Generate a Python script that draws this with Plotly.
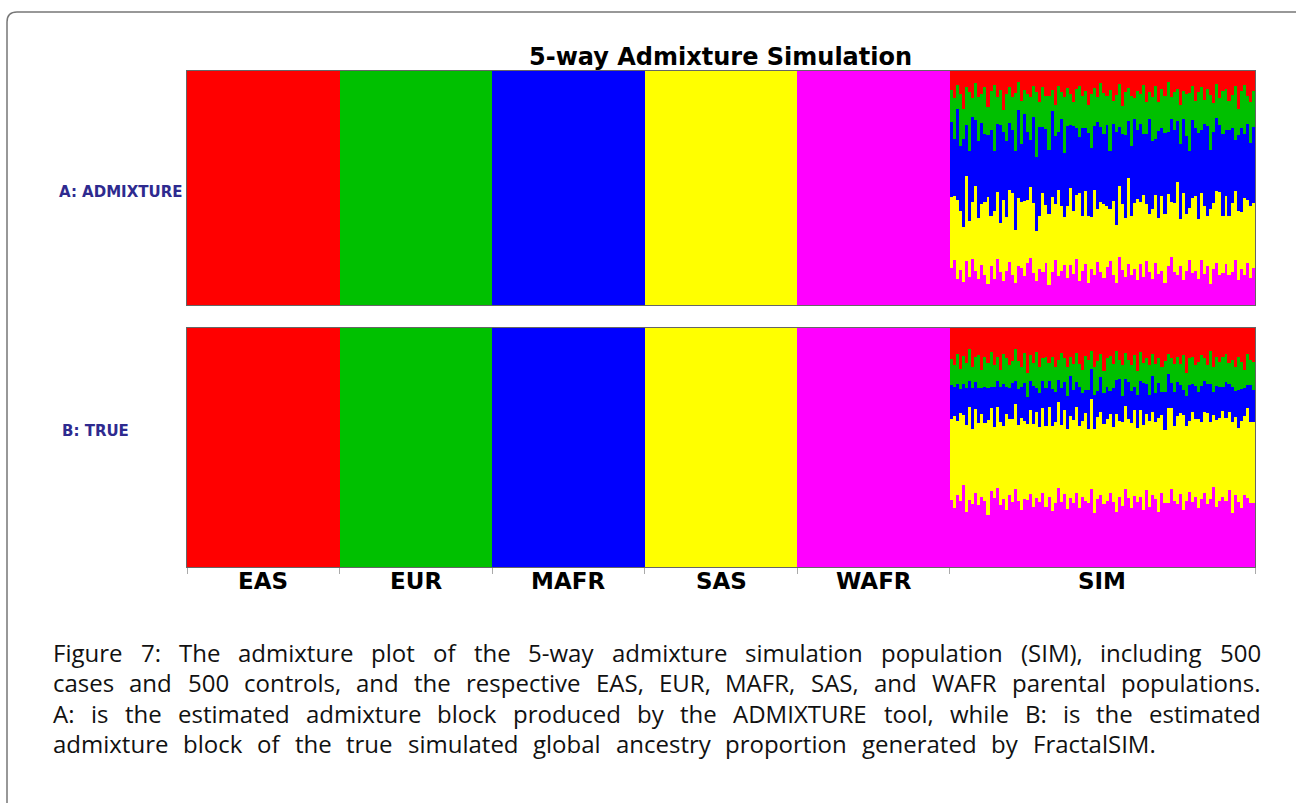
import plotly.graph_objects as go

# ---------------- data ----------------
groups = ["EAS", "EUR", "MAFR", "SAS", "WAFR", "SIM"]
group_sizes = [500, 500, 500, 500, 500, 1000]
components = ["EAS", "EUR", "MAFR", "SAS", "WAFR"]
colors = {"EAS": "#FF0000", "EUR": "#00C000", "MAFR": "#0000FF",
          "SAS": "#FFFF00", "WAFR": "#FF00FF"}

# SIM individuals (binned), panel A: ADMIXTURE estimate (percent)
EAS_A = [8,12,6,10,15,7,9,13,5,11, 10,7,14,9,6,12,8,16,10,7, 11,9,5,13,8,10,12,6,9,14,
         7,11,10,8,15,6,9,12,7,10, 13,8,6,11,9,14,10,7,12,5, 9,11,8,13,10,6,15,9,7,11,
         12,8,10,6,14,9,11,7,13,8, 10,5,12,9,7,16,8,11,10,6, 13,9,7,12,8,10,14,6,11,9,
         8,12,10,7,15,9,6,11,13,8]
EUR_A = [14,18,10,22,12,16,25,9,15,19, 13,20,11,17,28,12,15,9,21,16, 14,24,12,18,10,16,20,13,27,11,
         17,15,22,9,14,19,12,25,16,13, 10,18,21,14,16,11,24,15,12,19, 17,13,26,10,15,20,12,18,14,22,
         9,16,13,21,15,11,19,24,12,17, 15,22,10,16,13,18,11,20,27,14, 12,17,19,10,16,23,13,15,11,20,
         18,12,14,25,10,16,21,13,17,15]
MAFR_A = [32,25,38,28,35,22,30,40,27,33, 36,29,24,38,26,31,42,28,34,30, 27,33,39,25,36,29,22,35,31,40,
          28,34,26,37,30,24,38,29,33,27, 35,30,23,39,28,34,31,26,41,32, 29,36,25,33,38,27,30,35,24,31,
          37,28,34,26,32,40,29,25,36,30, 33,27,38,31,24,35,29,37,26,32, 30,36,28,34,39,25,31,33,27,38,
          29,35,32,24,30,37,28,34,26,31]
SAS_A = [30,28,33,25,22,36,24,27,35,26, 27,31,34,22,29,30,21,33,24,32, 35,22,30,28,31,27,33,29,21,24,
         34,26,29,32,25,35,28,22,30,33, 26,29,36,24,32,27,23,34,25,30, 31,27,22,32,24,33,28,25,36,26,
         29,33,27,35,26,24,30,31,23,33, 28,32,25,29,37,22,34,27,24,31, 33,25,30,28,22,31,29,32,34,26,
         30,24,29,32,27,25,33,28,30,27]
WAFR_A = [16,20,11,15,9,19,12,22,14,11, 18,13,8,17,11,21,14,10,15,19, 13,9,17,16,12,18,22,13,10,16,
          14,19,8,14,20,12,15,18,11,17, 13,21,10,15,18,9,16,12,20,14, 11,17,19,13,9,22,15,12,17,13,
          16,10,18,12,20,14,11,19,13,15, 9,17,22,14,12,18,10,16,21,13, 15,11,20,13,17,9,16,19,12,15,
          18,12,14,21,10,16,13,19,11,15]

# SIM individuals (binned), panel B: true simulated proportions (percent)
EAS_B = [13,15,11,17,12,14,9,16,13,11, 18,12,14,10,15,13,17,11,12,16, 14,9,13,15,11,19,12,14,10,16,
         13,12,15,11,17,14,10,13,16,12, 15,11,14,18,12,13,10,16,14,11, 17,13,12,15,9,14,16,11,13,15,
         12,18,10,14,13,16,11,15,12,17, 14,10,13,16,12,15,11,19,13,12, 16,14,11,13,15,10,17,12,14,13,
         11,15,13,16,12,14,18,11,13,15]
EUR_B = [11,9,13,8,12,10,14,9,11,13, 8,12,10,15,9,11,7,13,12,10, 9,14,11,8,13,10,12,9,15,11,
         10,13,8,12,11,9,14,10,12,8, 11,13,9,10,14,12,8,11,13,10, 9,12,15,10,11,8,13,12,9,11,
         14,10,12,8,11,13,9,12,10,11, 13,8,11,12,10,9,14,10,12,11, 9,12,13,10,8,14,11,12,10,13,
         12,9,11,10,14,11,8,13,10,12]
MAFR_B = [14,12,16,10,13,15,11,17,12,14, 11,15,13,9,16,12,14,18,11,13, 15,10,14,12,17,11,13,15,10,14,
          12,16,11,14,13,10,15,12,14,17, 13,11,15,12,10,16,13,14,11,15, 12,14,10,16,13,18,11,12,15,13,
          10,14,12,17,13,11,15,12,14,10, 16,13,11,15,14,12,10,13,16,12, 14,11,15,13,12,16,10,14,13,11,
          15,12,14,11,16,13,12,10,15,14]
SAS_B = [34,38,32,36,30,35,40,31,37,33, 36,32,38,35,29,37,34,31,39,33, 35,37,30,36,34,32,38,33,36,31,
         37,34,39,32,35,38,31,36,33,34, 35,38,32,33,37,30,39,34,35,36, 32,35,34,31,38,33,36,37,32,35,
         38,31,36,34,33,37,35,32,38,34, 31,37,35,33,36,34,38,32,31,37, 34,36,32,35,37,33,31,36,34,38,
         35,33,37,32,31,36,34,38,33,35]
WAFR_B = [28,24,31,27,35,22,29,26,33,25, 30,27,21,32,28,36,25,29,23,31, 27,34,26,22,30,28,33,24,29,27,
          32,25,30,21,28,35,26,31,24,29, 27,33,23,30,28,26,34,22,29,31, 25,28,32,27,21,30,26,35,28,24,
          31,27,29,23,33,26,30,28,22,32, 27,25,34,29,26,31,23,28,33,27, 30,24,28,32,26,29,35,25,27,31,
          28,33,22,30,27,24,31,29,26,28]

panel_labels = ["A: ADMIXTURE", "B: TRUE"]
title_text = "5-way Admixture Simulation"
caption_lines = [
    "Figure 7:  The admixture plot of the 5-way admixture simulation population (SIM), including 500",
    "cases and 500 controls, and the respective EAS, EUR, MAFR, SAS, and WAFR parental populations.",
    "A: is the estimated admixture block produced by the ADMIXTURE tool, while B: is the estimated",
    "admixture block of the true simulated global ancestry proportion generated by FractalSIM.",
]

# ---------------- layout helpers ----------------
W, H = 1296, 803
def fx(p):
    return p / W
def fy(p):
    return 1 - p / H

fig = go.Figure()

def add_panel(sim, xa, ya):
    n_sim = len(sim["EAS"])
    sim_w = group_sizes[-1] / n_sim
    xs, ws = [], []
    start = 0
    for s in group_sizes[:5]:
        xs.append(start + s / 2)
        ws.append(s)
        start += s
    for i in range(n_sim):
        xs.append(start + sim_w * (i + 0.5))
        ws.append(sim_w * 1.03)
    sums = [sum(sim[c][i] for c in components) for i in range(n_sim)]
    for c in reversed(components):  # WAFR at bottom, EAS on top
        ys = [1.0 if g == c else 0.0 for g in groups[:5]]
        ys += [sim[c][i] / sums[i] for i in range(n_sim)]
        fig.add_trace(go.Bar(x=xs, y=ys, width=ws, xaxis=xa, yaxis=ya,
                             marker=dict(color=colors[c], line=dict(width=0)),
                             showlegend=False, hoverinfo="skip"))

add_panel({"EAS": EAS_A, "EUR": EUR_A, "MAFR": MAFR_A, "SAS": SAS_A, "WAFR": WAFR_A}, "x", "y")
add_panel({"EAS": EAS_B, "EUR": EUR_B, "MAFR": MAFR_B, "SAS": SAS_B, "WAFR": WAFR_B}, "x2", "y2")

total = sum(group_sizes)
bounds = [0]
for s in group_sizes:
    bounds.append(bounds[-1] + s)
centers = [(bounds[i] + bounds[i + 1]) / 2 for i in range(len(groups))]

xdom = [fx(187), fx(1255)]
axis_common = dict(range=[0, total], showline=True, mirror=True, linecolor="#666666",
                   linewidth=1, showgrid=False, zeroline=False, fixedrange=True)
fig.update_layout(
    width=W, height=H,
    margin=dict(l=0, r=0, t=0, b=0),
    paper_bgcolor="white", plot_bgcolor="white",
    barmode="stack", bargap=0,
    xaxis=dict(domain=xdom, anchor="y", showticklabels=False, ticks="", **axis_common),
    yaxis=dict(domain=[fy(305), fy(71)], anchor="x", range=[0, 1], showline=True, mirror=True,
               linecolor="#666666", linewidth=1, showgrid=False, zeroline=False,
               showticklabels=False, ticks=""),
    xaxis2=dict(domain=xdom, anchor="y2", tickmode="array", tickvals=bounds,
                ticktext=[""] * len(bounds), ticks="outside", ticklen=6, tickcolor="#AAAAAA",
                **axis_common),
    yaxis2=dict(domain=[fy(567), fy(328)], anchor="x2", range=[0, 1], showline=True, mirror=True,
                linecolor="#666666", linewidth=1, showgrid=False, zeroline=False,
                showticklabels=False, ticks=""),
)

ann = []
# title
ann.append(dict(x=fx(720), y=fy(57), xref="paper", yref="paper", text="<b>" + title_text + "</b>",
                showarrow=False, xanchor="center", yanchor="middle",
                font=dict(family="DejaVu Sans", size=24, color="black")))
# group labels
for g, c in zip(groups, centers):
    ann.append(dict(x=c, y=fy(581), xref="x2", yref="paper", text="<b>" + g + "</b>",
                    showarrow=False, xanchor="center", yanchor="middle",
                    font=dict(family="DejaVu Sans", size=23, color="black")))
# panel labels
ann.append(dict(x=fx(57), y=fy(192), xref="paper", yref="paper", text="<b>" + panel_labels[0] + "</b>",
                showarrow=False, xanchor="left", yanchor="middle",
                font=dict(family="DejaVu Sans", size=15, color="#2E2A8F")))
ann.append(dict(x=fx(60), y=fy(431), xref="paper", yref="paper", text="<b>" + panel_labels[1] + "</b>",
                showarrow=False, xanchor="left", yanchor="middle",
                font=dict(family="DejaVu Sans", size=15, color="#2E2A8F")))

# caption, word-justified like the LaTeX figure caption
OPEN_SANS_W = {
    "a": .556, "b": .613, "c": .476, "d": .613, "e": .561, "f": .339, "g": .548, "h": .614,
    "i": .253, "k": .525, "l": .253, "m": .930, "n": .614, "o": .604, "p": .613, "r": .408,
    "s": .477, "t": .353, "u": .614, "v": .496, "w": .771, "x": .524, "y": .502,
    "A": .633, "B": .635, "D": .722, "E": .556, "F": .516, "I": .300, "M": .903, "R": .627,
    "S": .549, "T": .553, "U": .717, "W": .938, "X": .591,
    ":": .266, ".": .266, ",": .243, "-": .322, "(": .286, ")": .286,
}
def text_w(s, size):
    return sum(OPEN_SANS_W.get(ch, .572) for ch in s) * size

cap_size = 24
cap_left = 52
cap_right = [1260, 1260, 1260, 1155]
for i, line in enumerate(caption_lines):
    words = line.split()
    wds = [text_w(w, cap_size) for w in words]
    gap = (cap_right[i] - cap_left - sum(wds)) / (len(words) - 1)
    x = cap_left
    for w, wd in zip(words, wds):
        ann.append(dict(x=fx(x), y=fy(652 + 30.6 * i), xref="paper", yref="paper", text=w,
                        showarrow=False, xanchor="left", yanchor="middle", borderpad=0,
                        font=dict(family="Open Sans", size=cap_size, color="#111111")))
        x += wd + gap
fig.update_layout(annotations=ann)

# outer rounded frame of the figure box
r = 10
path = (f"M {fx(7)},{fy(820)} L {fx(7)},{fy(12 + r)} "
        f"Q {fx(7)},{fy(12)} {fx(7 + r)},{fy(12)} L {fx(1320)},{fy(12)}")
fig.add_shape(type="path", path=path, xref="paper", yref="paper",
              line=dict(color="#777777", width=1.5))

fig.write_html("out.html")
